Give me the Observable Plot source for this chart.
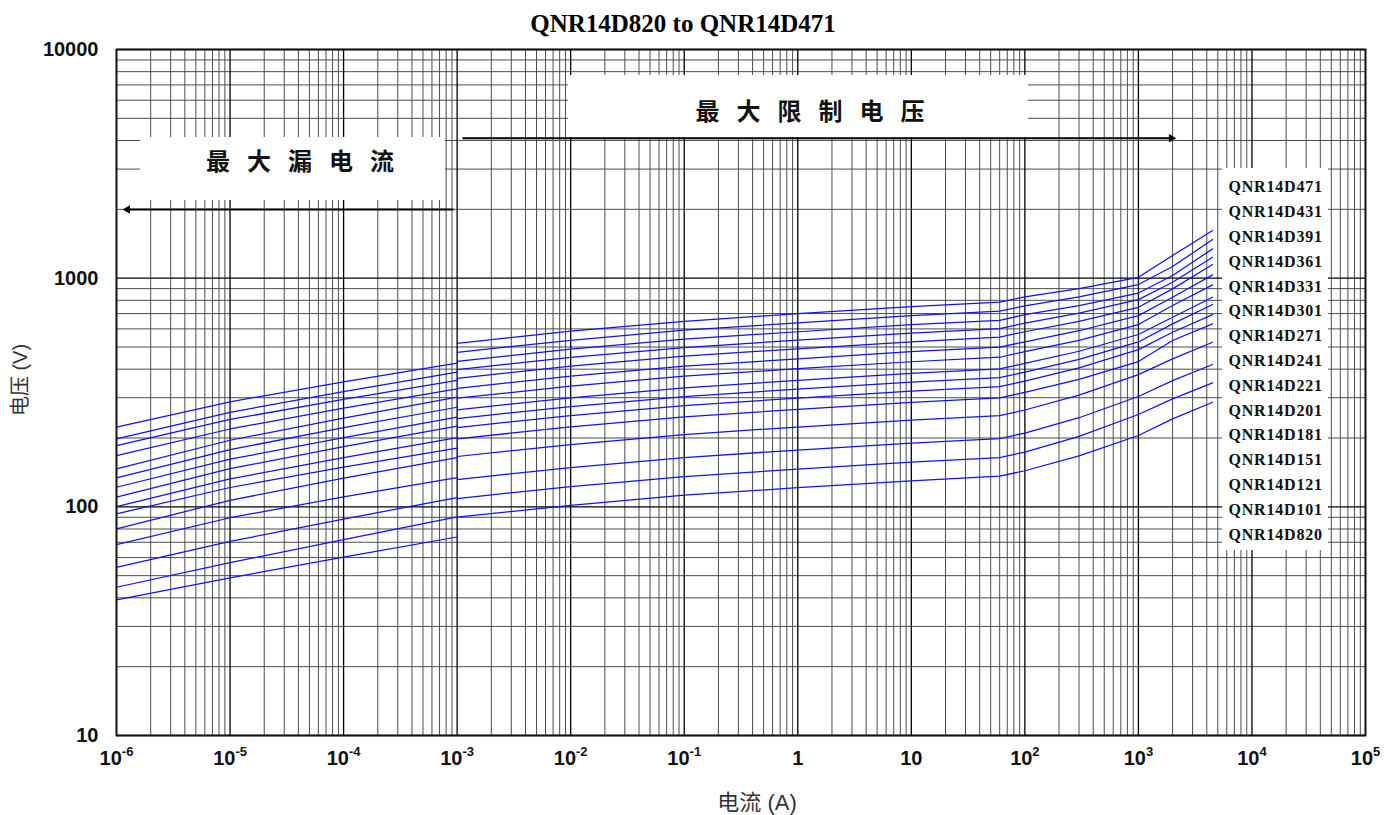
<!DOCTYPE html>
<html>
<head>
<meta charset="utf-8">
<script src="https://cdn.jsdelivr.net/npm/d3@7"></script>
<script src="https://cdn.jsdelivr.net/npm/@observablehq/plot@0.6"></script>
<style>
  html, body { margin: 0; padding: 0; background: #fff; }
  #wrap { position: relative; width: 1389px; height: 815px; overflow: hidden; }
  #title { position: absolute; top: 10px; left: 683px; transform: translateX(-50%); white-space: nowrap;
           font-family: "Liberation Serif", serif; font-weight: bold; font-size: 25px; color: #000; }
  #chart { position: absolute; top: 40px; left: 0; }
  .axt { position: absolute; font-family: "Liberation Sans", "Noto Sans CJK SC", sans-serif; color: #333; white-space: nowrap; }
  #xt { left: 757px; top: 784px; transform: translateX(-50%); font-size: 22px; }
  #yt { left: 18px; top: 380px; transform: translate(-50%, -50%) rotate(-90deg); font-size: 20px; }
</style>
</head>
<body>
<div id="wrap">
  <div id="title">QNR14D820 to QNR14D471</div>
  <div id="chart"></div>
  <div class="axt" id="xt">电流 (A)</div>
  <div class="axt" id="yt">电压 (V)</div>
</div>
<script>
// ---------------- data ----------------
const models = ["QNR14D471","QNR14D431","QNR14D391","QNR14D361","QNR14D331","QNR14D301","QNR14D271",
  "QNR14D241","QNR14D221","QNR14D201","QNR14D181","QNR14D151","QNR14D121","QNR14D101","QNR14D820"];

// leakage region (A)
const leakCurrent = [1e-6, 1e-5, 1e-4, 1e-3];
const leakVoltage = [
  [222.9, 288, 352, 425],
  [198.3, 259, 319, 388],
  [185.4, 241, 295, 357],
  [167.6, 219, 270, 328],
  [146.6, 195.5, 244.5, 301.5],
  [133.9, 177.9, 221.8, 272.6],
  [121.8, 161.5, 200.9, 246.5],
  [110.2, 146.8, 183.4, 225.6],
  [100.3, 132.4, 164.3, 200.9],
  [93.2, 121.5, 149.2, 180.8],
  [80.1, 106.8, 133.4, 164.3],
  [68.4, 89.6, 110.5, 134.3],
  [54.4, 70.6, 88.4, 109.8],
  [44.5, 57, 71.9, 90.3],
  [39.2, 48.9, 60.3, 73.8]
];

// clamping region (A)
const clampCurrent = [1e-3, 1e-2, 0.1, 1, 10, 60, 100, 300, 1000, 2000, 4500];
const clampVoltage = [
  [519, 586, 648, 699, 750, 785, 829, 901, 1009, 1256, 1615],
  [474, 535, 592, 638, 685, 717, 757, 828, 938, 1124, 1475],
  [433, 489, 541, 583, 626, 654, 692, 758, 861, 1027, 1343],
  [398, 450, 497, 536, 575, 602, 636, 703, 806, 960, 1234],
  [365, 412, 456, 491, 527, 552, 583, 647, 746, 898, 1147],
  [330, 372.5, 412, 444, 477, 499, 527, 589, 686, 825, 1034],
  [298.5, 337, 372.5, 402, 431, 451, 477, 535, 627, 759, 935],
  [265.6, 299.7, 331.4, 357.4, 383.4, 401, 424, 479, 567, 675, 825],
  [243.3, 274.6, 303.7, 327.4, 351.3, 367.6, 388.5, 441, 526, 631, 767],
  [222.2, 250.7, 277.3, 299.1, 320.8, 335.7, 354.8, 405, 487, 580, 693],
  [198.3, 223.8, 247.5, 266.9, 286.3, 299.7, 316.8, 360.6, 431.8, 533.6, 631],
  [166, 187.3, 207.1, 223.4, 239.7, 250.7, 265.1, 307.9, 378.8, 443.7, 524.5],
  [131.6, 148.5, 164.3, 177.2, 190.1, 198.9, 210.2, 245.3, 303.7, 356.6, 419.1],
  [108.7, 122.7, 135.7, 146.3, 157, 164.3, 173.6, 203.4, 253.3, 296.7, 348.5],
  [90.1, 101.6, 112.4, 121.2, 130, 136.1, 143.8, 167, 205.1, 242.6, 286.7]
];

const xTickValues = [1e-6,1e-5,1e-4,1e-3,1e-2,1e-1,1,10,1e2,1e3,1e4,1e5];
const xTickLabels = ["10^-6","10^-5","10^-4","10^-3","10^-2","10^-1","1","10","10^2","10^3","10^4","10^5"];
const yTickValues = [10, 100, 1000, 10000];
const yTickLabels = ["10", "100", "1000", "10000"];

const leakLabel = "最大漏电流";
const clampLabel = "最大限制电压";

// ---------------- layout ----------------
const W = 1389, H = 775;
const mT = 9, mB = 80, mL = 116, mR = 24;
const xDomain = [1e-6, 1e5], yDomain = [10, 10000];

// annotation anchors (data units: A, V)
const leakBox = {x1: 1.63e-6, x2: 7.9e-4, y1: 2186, y2: 4123};
const clampBox = {x1: 9.57e-3, x2: 107.6, y1: 4123, y2: 7697};
const legendBox = {x1: 5503, x2: 47210, y1: 64.4, y2: 3017};
const leakText = {x: 4.17e-5, y: 3205, t: leakLabel};
const clampText = {x: 1.294, y: 5303, t: clampLabel};
const leakArrow = {x1: 9.29e-4, x2: 1.25e-6, y: 1997};
const clampArrow = {x1: 1.115e-3, x2: 1950, y: 4094};
const legendX = 6217;
const legendRows = models.map((m, i) => ({label: m, x: legendX, y: 10 ** (3.3978 - i * 0.10849)}));

// ---------------- build rows ----------------
const rows = [];
models.forEach((m, i) => {
  leakCurrent.forEach((c, j) => rows.push({model: m, seg: m + "-leak", I: c, V: leakVoltage[i][j]}));
  clampCurrent.forEach((c, j) => rows.push({model: m, seg: m + "-clamp", I: c, V: clampVoltage[i][j]}));
});

const xs = d3.scaleLog(xDomain, [0, 1]);
const ys = d3.scaleLog(yDomain, [0, 1]);
const isDecade = v => Math.abs(Math.log10(v) - Math.round(Math.log10(v))) < 1e-9;
const xAll = xs.ticks(30), yAll = ys.ticks(30);
const xMinor = xAll.filter(v => !isDecade(v)), xMajor = xAll.filter(isDecade);
const yMinor = yAll.filter(v => !isDecade(v)), yMajor = yAll.filter(isDecade);

const xLabelOf = d => xTickLabels[xTickValues.findIndex(v => Math.abs(Math.log10(v) - Math.log10(d)) < 1e-9)];
const yLabelOf = d => yTickLabels[yTickValues.findIndex(v => Math.abs(Math.log10(v) - Math.log10(d)) < 1e-9)];

const lineColor = "#1010ff";

const chart = Plot.plot({
  width: W, height: H,
  marginTop: mT, marginBottom: mB, marginLeft: mL, marginRight: mR,
  x: {type: "log", domain: xDomain},
  y: {type: "log", domain: yDomain},
  style: {fontFamily: "'Liberation Sans', Arial, sans-serif", background: "#fff", overflow: "visible"},
  marks: [
    Plot.ruleX(xMinor, {stroke: "#4d4d4d", strokeWidth: 1}),
    Plot.ruleY(yMinor, {stroke: "#4d4d4d", strokeWidth: 1}),
    Plot.ruleX(xMajor, {stroke: "#000", strokeWidth: 1.3}),
    Plot.ruleY(yMajor, {stroke: "#000", strokeWidth: 1.3}),
    Plot.rect([leakBox, clampBox, legendBox], {x1: "x1", x2: "x2", y1: "y1", y2: "y2", fill: "#fff"}),
    Plot.link([leakArrow, clampArrow], {x1: "x1", x2: "x2", y1: "y", y2: "y", stroke: "#000", strokeWidth: 2}),
    Plot.dot([leakArrow], {x: "x2", y: "y", symbol: "triangle", r: 3.2, rotate: -90, fill: "#000", stroke: null}),
    Plot.dot([clampArrow], {x: "x2", y: "y", symbol: "triangle", r: 3.2, rotate: 90, fill: "#000", stroke: null}),
    Plot.text([leakText, clampText], {x: "x", y: "y", text: "t", fontSize: 24, fontWeight: "bold", dx: 8,
      fontFamily: "'Noto Sans CJK SC', sans-serif", fill: "#111", textAnchor: "middle"}),
    Plot.line(rows, {x: "I", y: "V", z: "seg", stroke: lineColor, strokeWidth: 1.25}),
    Plot.text(legendRows, {x: "x", y: "y", text: "label", textAnchor: "start", fontSize: 16, fontWeight: "bold",
      fontFamily: "'Liberation Serif', serif", fill: "#111"}),
    Plot.frame({stroke: "#111", strokeWidth: 1.8}),
    Plot.axisX(xTickValues, {tickSize: 0, tickPadding: 15, tickFormat: xLabelOf, fontSize: 20, fontWeight: "bold", label: null, fill: "#111"}),
    Plot.axisY(yTickValues, {tickSize: 0, tickPadding: 18, tickFormat: yLabelOf, fontSize: 20, fontWeight: "bold", label: null, fill: "#111"})
  ]
});

document.getElementById("chart").appendChild(chart);

// superscripts on x tick labels, letter spacing on annotation labels
const svg = d3.select(chart);
svg.selectAll("text").each(function () {
  const t = this.textContent;
  if (t.includes("^")) {
    const [b, e] = t.split("^");
    const sel = d3.select(this);
    sel.text(null);
    sel.append("tspan").text(b);
    sel.append("tspan").attr("dy", "-9").attr("font-size", "13px").text(e);
  } else if (t === leakLabel || t === clampLabel) {
    d3.select(this).style("letter-spacing", "17px");
  } else if (models.includes(t)) {
    d3.select(this).style("letter-spacing", "0.8px");
  }
});
</script>
</body>
</html>
